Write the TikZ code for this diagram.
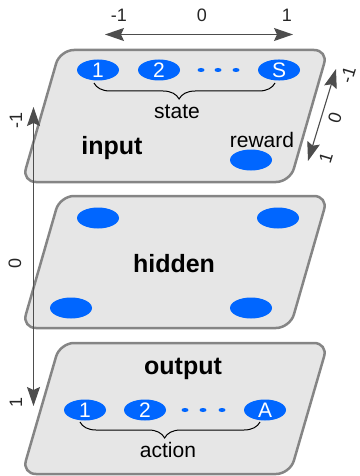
\documentclass[tikz,border=0pt]{standalone}
\usepackage{fontspec}
\setmainfont{Liberation Sans}
\usetikzlibrary{arrows.meta,decorations.pathreplacing,shapes.geometric}
\definecolor{layerfill}{HTML}{E6E6E6}
\definecolor{layeredge}{HTML}{858585}
\definecolor{unitblue}{HTML}{0066FF}
\definecolor{axisgray}{HTML}{4D4D4D}
\begin{document}
\begin{tikzpicture}[x=1pt,y=-1pt,
  layer/.style={fill=layerfill,draw=layeredge,line width=2.5pt,rounded corners=14pt},
  unit/.style={ellipse,fill=unitblue,minimum width=42pt,minimum height=21pt,inner sep=0pt,
    text=white,font=\fontsize{21}{21}\selectfont},
  blob/.style={ellipse,fill=unitblue,minimum width=7pt,minimum height=4pt,inner sep=0pt},
  lbl/.style={font=\fontsize{21}{21}\selectfont,inner sep=0pt,anchor=base},
  title/.style={font=\fontsize{25}{25}\selectfont\bfseries,inner sep=0pt,anchor=base},
  ticklbl/.style={font=\fontsize{18}{18}\selectfont,inner sep=0pt,text=black!85},
  axis/.style={draw=axisgray,line width=1.1pt,
    {Stealth[length=19pt,width=13pt,inset=3pt]}-{Stealth[length=19pt,width=13pt,inset=3pt]}},
  curly/.style={decorate,decoration={brace,mirror,amplitude=16pt,aspect=0.47},line width=1pt}
]
\useasboundingbox (0,0) rectangle (359,476);

% three layers
\draw[layer] (190,50) -- (328,50) -- (290,182) -- (22,182) -- (60,50) -- cycle;
\draw[layer] (190,196) -- (328,196) -- (290,328) -- (22,328) -- (60,196) -- cycle;
\draw[layer] (190,343) -- (328,343) -- (290,474) -- (22,474) -- (60,343) -- cycle;

% input layer
\node[unit] (s1) at (98,70) {1};
\node[unit] (s2) at (159,70) {2};
\node[blob] (sd1) at (201,70) {};
\node[blob] (sd2) at (218,70) {};
\node[blob] (sd3) at (236,70) {};
\node[unit] (sS) at (279,70) {S};
\coordinate (sb1) at (94,83);
\coordinate (sb2) at (275,83);
\draw[curly] (sb1) -- (sb2);
\node[lbl] (state) at (177,118) {state};
\node[title] (input) at (112,154) {input};
\node[lbl] (reward) at (262,147) {reward};
\node[unit] (rw) at (251,160) {};

% hidden layer
\node[unit] (h1) at (98,218) {};
\node[unit] (h2) at (278,218) {};
\node[unit] (h3) at (71,308) {};
\node[unit] (h4) at (251,308) {};
\node[title] (hidden) at (174,272) {hidden};

% output layer
\node[title] (output) at (183,374) {output};
\node[unit] (a1) at (85,410) {1};
\node[unit] (a2) at (145,410) {2};
\node[blob] (ad1) at (185,410) {};
\node[blob] (ad2) at (203,410) {};
\node[blob] (ad3) at (222,410) {};
\node[unit] (aA) at (265,410) {A};
\coordinate (ab1) at (80,422);
\coordinate (ab2) at (260,422);
\draw[curly] (ab1) -- (ab2);
\node[lbl] (action) at (168,457) {action};

% horizontal axis
\coordinate (xl) at (105,34.5);
\coordinate (xr) at (293,34.5);
\draw[axis,line width=1.3pt] (xl) -- (xr);
\node[ticklbl] (xm1) at (119,15) {-1};
\node[ticklbl] (x0) at (202,15) {0};
\node[ticklbl] (x1) at (287,15) {1};

% depth axis
\coordinate (dt) at (336,69);
\coordinate (db) at (308,161);
\draw[axis] (dt) -- (db);
\node[ticklbl,rotate=73] (dm1) at (348,75) {-1};
\node[ticklbl,rotate=73] (d0) at (335,118) {0};
\node[ticklbl,rotate=73] (d1) at (326,158) {1};

% vertical axis
\coordinate (vt) at (33.5,107);
\coordinate (vb) at (33.5,406);
\draw[axis,line width=0.9pt] (vt) -- (vb);
\node[ticklbl,rotate=90] (vm1) at (16,120) {-1};
\node[ticklbl,rotate=90] (v0) at (15,263) {0};
\node[ticklbl,rotate=90] (v1) at (16,402) {1};
\end{tikzpicture}
\end{document}
